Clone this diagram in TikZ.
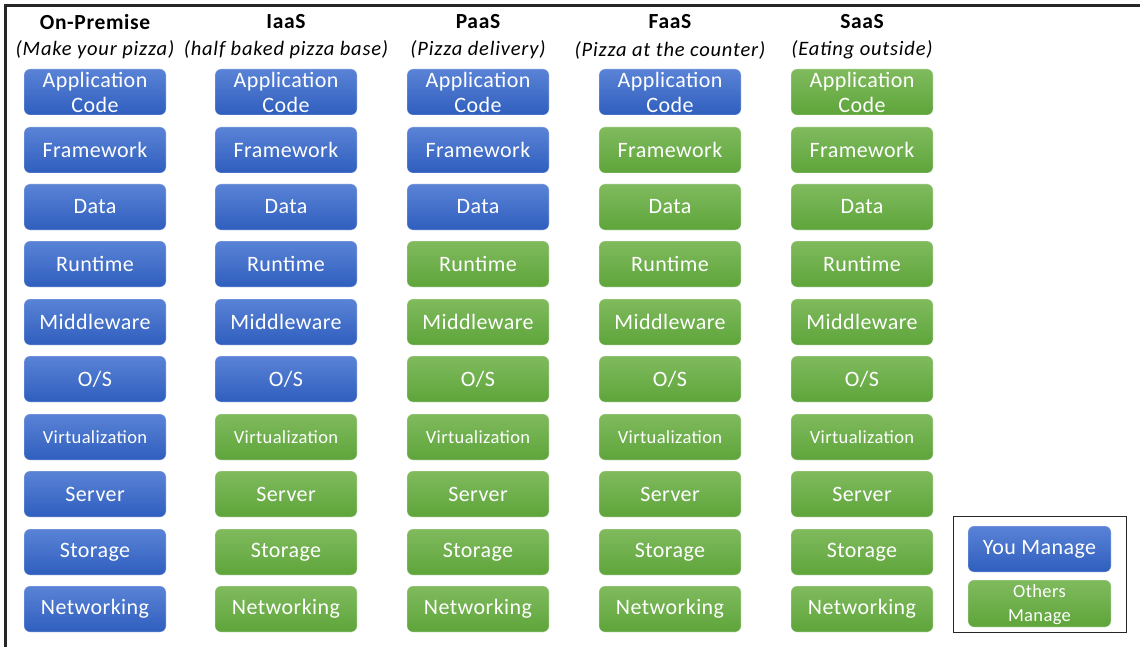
\documentclass[tikz,border=0pt]{standalone}
\usepackage{fontspec}
\setmainfont{Carlito}
\newfontfamily\spaced[LetterSpace=2]{Carlito}
\newfontfamily\spacedh[LetterSpace=3]{Carlito}
\newfontfamily\spacedi[LetterSpace=4]{Carlito}
\definecolor{bltop}{HTML}{5A83D6}
\definecolor{blbot}{HTML}{2F5EBE}
\definecolor{grtop}{HTML}{80BA5E}
\definecolor{grbot}{HTML}{5EA53A}
\tikzset{
  mbox/.style={rounded corners=6pt, minimum width=142pt, minimum height=46pt, inner sep=0pt,
    text=white, align=center, font=\spaced\fontsize{22}{25}\selectfont, draw=white, draw opacity=0.35, line width=0.6pt},
  you/.style={mbox, top color=bltop, bottom color=blbot},
  oth/.style={mbox, top color=grtop, bottom color=grbot},
  small/.style={font=\spaced\fontsize{18.5}{24}\selectfont},
  head/.style={font=\spacedh\bfseries\fontsize{21.5}{24}\selectfont, inner sep=0pt},
  sub/.style={font=\spacedi\itshape\fontsize{20.5}{24}\selectfont, inner sep=0pt}
}
\begin{document}
\begin{tikzpicture}[x=1pt,y=-1pt]
\useasboundingbox (0,0) rectangle (1140,647);
\fill[white] (0,0) rectangle (1140,647);
\coordinate (tl) at (5.5,5.5);
\coordinate (tr) at (1140,5.5);
\coordinate (bl) at (5.5,647);
\draw[line width=2.5pt, black!85] (tr) -- (tl) -- (bl);
% headers
\foreach \x/\h/\s/\n in {95/On-Premise/(Make your pizza)/1, 286/IaaS/(half baked pizza base)/2, 478/PaaS/(Pizza delivery)/3, 670/FaaS/(Pizza at the counter)/4, 862/SaaS/(Eating outside)/5}{
  \node[head] (h\n) at (\x,22) {\h};
  \node[sub] (s\n) at (\x,50) {\s};
}
% rows
\foreach \x/\n/\k in {95/1/10, 286/2/6, 478/3/3, 670/4/1, 862/5/0}{
  \foreach \y/\r/\t/\st in {92/1/{Application\\Code}/mbox, 150/2/Framework/mbox, 207/3/Data/mbox, 264/4/Runtime/mbox, 322/5/Middleware/mbox, 379/6/{O/S}/mbox, 437/7/Virtualization/small, 494/8/Server/mbox, 552/9/Storage/mbox, 609/10/Networking/mbox}{
    \ifnum\r>\k
      \node[oth, \st] (b\n-\r) at (\x,\y) {\t};
    \else
      \node[you, \st] (b\n-\r) at (\x,\y) {\t};
    \fi
  }
}
% legend
\node[draw=black!85, line width=1pt, minimum width=173pt, minimum height=116pt, inner sep=0pt] (leg) at (1039.5,574.5) {};
\node[you, minimum width=143pt] (ly) at (1039.5,549) {You Manage};
\node[oth, small, minimum width=143pt, minimum height=47pt, text depth=0pt] (lo) at (1039.5,603.5) {Others\\Manage};
\end{tikzpicture}
\end{document}
